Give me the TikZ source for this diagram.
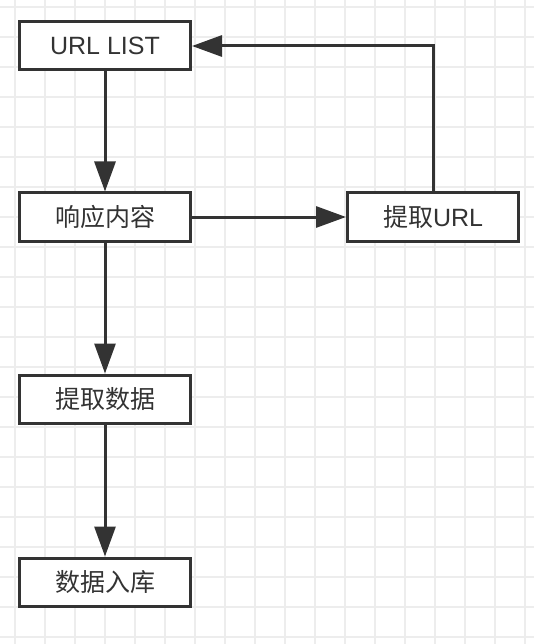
\documentclass[tikz,border=0pt]{standalone}
\usepackage{fontspec}
\setmainfont{Liberation Sans}
\newfontfamily\cjk{Noto Sans CJK SC}
\usetikzlibrary{arrows.meta}
\definecolor{gridc}{HTML}{EDEDED}
\definecolor{ink}{HTML}{333333}
\begin{document}
\begin{tikzpicture}[x=1pt,y=-1pt,
  flowbox/.style={draw=ink,line width=3pt,fill=white,minimum width=171pt,minimum height=48pt,inner sep=0pt,text=ink,font=\fontsize{25}{30}\selectfont},
  conn/.style={draw=ink,line width=3pt,-{Triangle[width=21pt,length=30pt]}}]
\useasboundingbox (0,0) rectangle (534,644);
\fill[white] (0,0) rectangle (534,644);
\foreach \i in {0,...,17} {\draw[gridc,line width=2pt] (15+30*\i,0) -- (15+30*\i,644);}
\foreach \j in {0,...,21} {\draw[gridc,line width=2pt] (0,7+30*\j) -- (534,7+30*\j);}
\node[flowbox] (url) at (105,46) {URL LIST};
\node[flowbox] (resp) at (105,217) {\cjk 响应内容};
\node[flowbox] (exurl) at (433,217) {{\cjk 提取}URL};
\node[flowbox] (exdata) at (105,399) {\cjk 提取数据};
\node[flowbox] (store) at (105,582) {\cjk 数据入库};
\coordinate (corner) at (433,46);
\draw[conn] (url) -- (resp);
\draw[conn] (resp) -- (exurl);
\draw[conn] (resp) -- (exdata);
\draw[conn] (exdata) -- (store);
\draw[conn] (exurl.north) -- (corner) -- (url.east);
\end{tikzpicture}
\end{document}
